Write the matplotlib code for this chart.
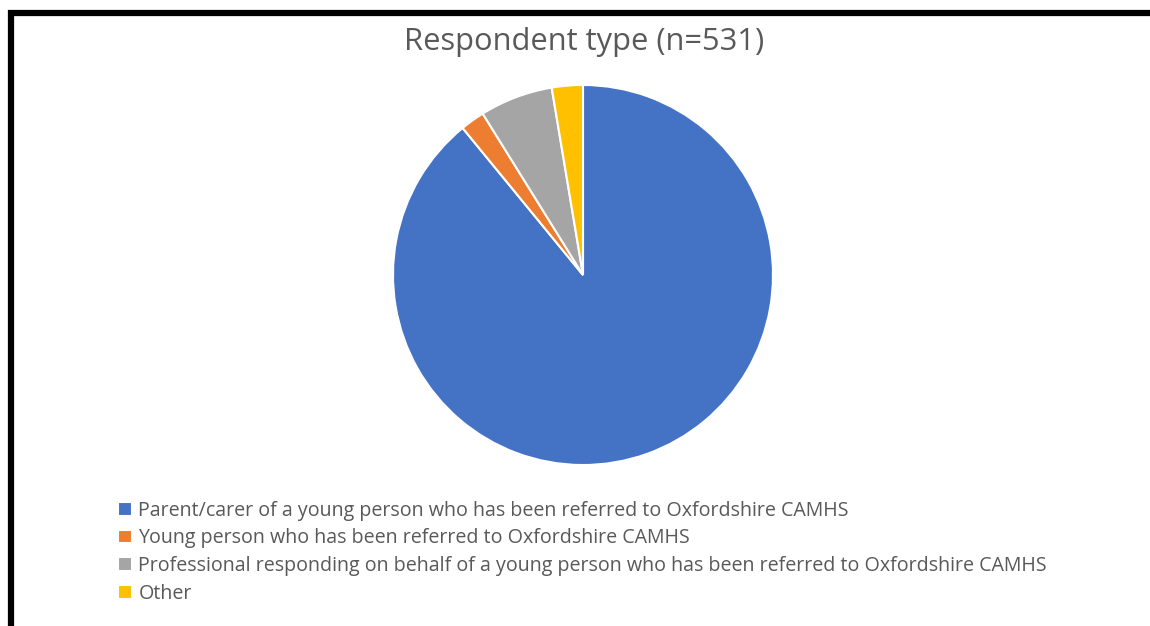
import matplotlib.pyplot as plt
from matplotlib.lines import Line2D

# respondent counts (n=531)
labels = [
    "Parent/carer of a young person who has been referred to Oxfordshire CAMHS",
    "Young person who has been referred to Oxfordshire CAMHS",
    "Professional responding on behalf of a young person who has been referred to Oxfordshire CAMHS",
    "Other",
]
counts = [473, 11, 33, 14]
colors = ["#4472C4", "#ED7D31", "#A5A5A5", "#FFC000"]

W, H = 1150, 626
fig = plt.figure(figsize=(W / 100, H / 100), dpi=100)
plt.rcParams['font.family'] = ['Open Sans', 'DejaVu Sans']

# pie area: centre (583, 275) px, radius 190 px
cx, cy, r = 583, 275, 190
ax = fig.add_axes([(cx - r) / W, (H - cy - r) / H, 2 * r / W, 2 * r / H])
wedges, _ = ax.pie(counts, colors=colors, startangle=90, counterclock=False,
                   radius=1.0, wedgeprops=dict(edgecolor="white", linewidth=1.5))
ax.set_xlim(-1, 1)
ax.set_ylim(-1, 1)
ax.set_aspect("auto")

fig.text(584 / W, 1 - 42 / H, "Respondent type (n=531)", ha="center", va="center",
         fontsize=22.2, color="#595959")

fig.legend(wedges, labels, loc="upper left", bbox_to_anchor=(108 / W, 1 - 491 / H),
           frameon=False, handlelength=0.7, handleheight=0.7, handletextpad=0.35,
           labelspacing=0.39, fontsize=14.1, labelcolor="#595959", borderpad=0)

# black frame on the top and left edges
fig.add_artist(Line2D([8 / W, 1.0], [1 - 13 / H, 1 - 13 / H], color="black",
                      linewidth=4.5, transform=fig.transFigure, solid_capstyle="butt"))
fig.add_artist(Line2D([11 / W, 11 / W], [0, 1 - 10 / H], color="black",
                      linewidth=4.5, transform=fig.transFigure, solid_capstyle="butt"))

fig.savefig("out.png", dpi=100)
